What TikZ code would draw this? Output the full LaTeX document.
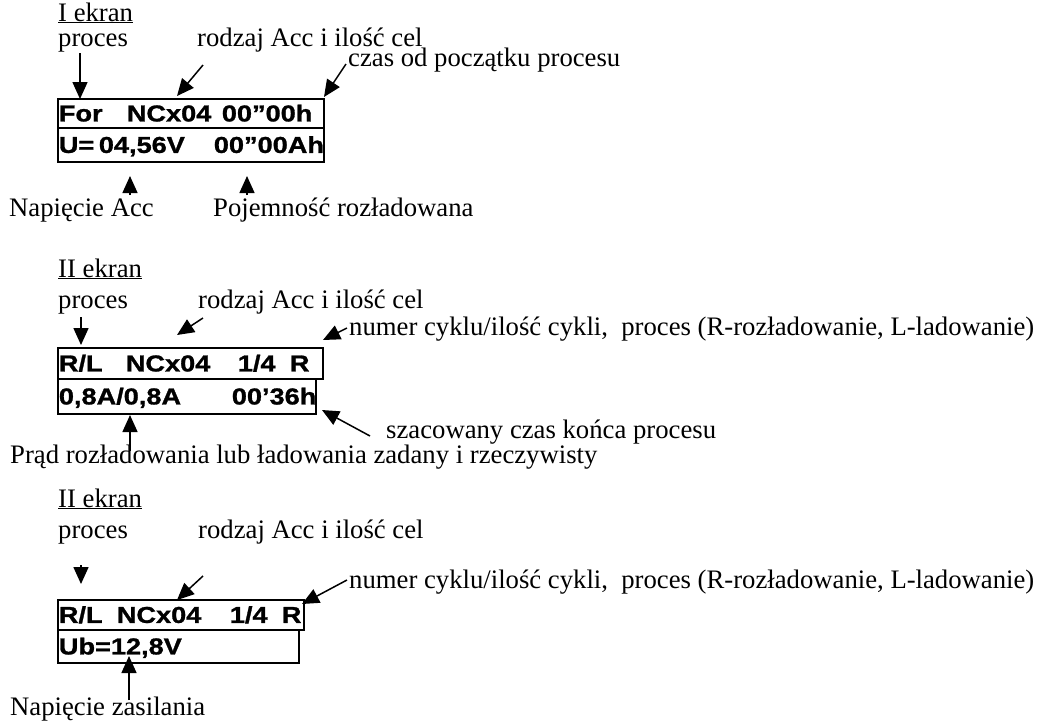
\documentclass[tikz,border=0pt]{standalone}
\usepackage{fontspec}
\setmainfont{Liberation Serif}
\newfontfamily\lcdfont[FakeStretch=1.18,FakeBold=1.2]{Liberation Sans}
\usetikzlibrary{arrows.meta,calc}
\tikzset{
  lbl/.style={anchor=base west, inner sep=0pt, font=\fontsize{26.7}{31}\selectfont},
  lcd/.style={draw, line width=1.8pt, anchor=north west, inner xsep=1pt, inner ysep=0pt,
    text height=16pt, text depth=0pt, align=left,
    font=\lcdfont\bfseries\fontsize{23}{27}\selectfont},
  arr/.style={line width=1.5pt, -{Triangle[length=17pt,width=15pt]}},
}
\newcommand{\seg}[2]{\makebox[#1pt][l]{#2}}
\begin{document}
\begin{tikzpicture}[x=1pt,y=-1pt]
\useasboundingbox (0,0) rectangle (1037,724);

% ---------- Screen I ----------
\node[lbl] (t1) at (58,21) {\underline{I ekran}};
\node[lbl] (p1) at (58,46) {proces};
\node[lbl] (r1) at (197,46) {rodzaj Acc i ilość cel};
\node[lbl] (c1) at (348,66) {czas od początku procesu};
\node[lbl] (n1) at (9,216) {Napięcie Acc};
\node[lbl] (q1) at (213,216) {Pojemność rozładowana};

\node[lcd, text width=264pt, minimum height=29pt] (b1a) at (57,98)
  {\seg{68}{For}\seg{95}{NCx04}00”00h};
\node[lcd, text width=264pt, minimum height=34pt] (b1b) at (57,127)
  {\seg{40}{U=}\seg{115}{04,56V}00”00Ah};

\coordinate (p1s) at (80,53);   \coordinate (p1e) at (80,99);
\coordinate (r1s) at (203,65);  \coordinate (r1e) at (177,96);
\coordinate (c1s) at (346,64);  \coordinate (c1e) at (324,97);
\coordinate (n1s) at (130,195); \coordinate (n1e) at (130,176);
\coordinate (q1s) at (247,195); \coordinate (q1e) at (247,176);
\draw[arr] (p1s) -- (p1e);
\draw[arr] (r1s) -- (r1e);
\draw[arr] (c1s) -- (c1e);
\draw[arr] (n1s) -- (n1e);
\draw[arr] (q1s) -- (q1e);

% ---------- Screen II ----------
\node[lbl] (t2) at (58,277) {\underline{II ekran}};
\node[lbl] (p2) at (58,308) {proces};
\node[lbl] (r2) at (198,308) {rodzaj Acc i ilość cel};
\node[lbl] (m2) at (349,335) {numer cyklu/ilość cykli,\ \ proces (R-rozładowanie, L-ladowanie)};
\node[lbl] (s2) at (386,438) {szacowany czas końca procesu};
\node[lbl] (d2) at (10,463) {Prąd rozładowania lub ładowania zadany i rzeczywisty};

\node[lcd, text width=263pt, minimum height=31pt] (b2a) at (57,347)
  {\seg{67}{R/L}\seg{112}{NCx04}\seg{52}{1/4}R};
\node[lcd, text width=256pt, minimum height=35pt] (b2b) at (57,378)
  {\seg{173}{0,8A/0,8A}00’36h};

\coordinate (p2s) at (81,317);  \coordinate (p2e) at (81,345);
\coordinate (r2s) at (203,318); \coordinate (r2e) at (177,335);
\coordinate (m2s) at (347,328); \coordinate (m2e) at (323,340);
\coordinate (s2s) at (370,436); \coordinate (s2e) at (322,410);
\coordinate (d2s) at (130,451); \coordinate (d2e) at (130,415);
\draw[arr] (p2s) -- (p2e);
\draw[arr] (r2s) -- (r2e);
\draw[arr] (m2s) -- (m2e);
\draw[arr] (s2s) -- (s2e);
\draw[arr] (d2s) -- (d2e);

% ---------- Screen III ----------
\node[lbl] (t3) at (58,507) {\underline{II ekran}};
\node[lbl] (p3) at (58,538) {proces};
\node[lbl] (r3) at (198,538) {rodzaj Acc i ilość cel};
\node[lbl] (m3) at (349,588) {numer cyklu/ilość cykli,\ \ proces (R-rozładowanie, L-ladowanie)};
\node[lbl] (z3) at (10,715) {Napięcie zasilania};

\node[lcd, text width=244pt, minimum height=30pt] (b3a) at (57,599)
  {\seg{58}{R/L}\seg{113}{NCx04}\seg{52}{1/4}R};
\node[lcd, text width=239pt, minimum height=33pt] (b3b) at (57,629)
  {Ub=12,8V};

\coordinate (p3s) at (81,565);  \coordinate (p3e) at (81,584);
\coordinate (r3s) at (203,576); \coordinate (r3e) at (177,600);
\coordinate (m3s) at (347,580); \coordinate (m3e) at (302,604);
\coordinate (z3s) at (129,700); \coordinate (z3e) at (129,656);
\draw[arr] (p3s) -- (p3e);
\draw[arr] (r3s) -- (r3e);
\draw[arr] (m3s) -- (m3e);
\draw[arr] (z3s) -- (z3e);
\end{tikzpicture}
\end{document}
